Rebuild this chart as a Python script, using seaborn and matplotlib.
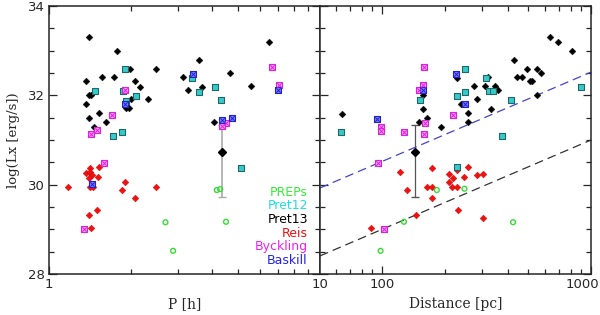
import numpy as np
import pandas as pd
import matplotlib
matplotlib.use("Agg")
import matplotlib.pyplot as plt
import matplotlib.ticker as mticker
import matplotlib.transforms as mtrans
import seaborn as sns

# ---------------- data ----------------
# left panel: orbital period P [h] vs log Lx
pret13_p = [1.40, 1.78, 1.99, 2.48, 1.57, 1.73, 1.37, 2.08, 2.17, 1.41, 1.43, 2.00, 2.31,
            1.37, 1.53, 1.41, 1.93, 1.98, 1.62, 1.47, 3.11, 3.27, 3.58, 3.67, 4.67, 6.50,
            5.56, 4.06]
pret13_p_lx = [33.30, 33.00, 32.60, 32.60, 32.40, 32.40, 32.31, 32.31, 32.19, 32.00, 32.00,
               31.91, 31.91, 31.80, 31.60, 31.50, 31.71, 31.71, 31.40, 31.30, 32.40, 32.11,
               32.79, 32.19, 32.51, 33.19, 32.22, 31.40]
pret12_p = [1.91, 1.48, 1.88, 1.92, 2.10, 1.72, 1.86, 3.38, 3.57, 4.11, 4.31, 5.13]
pret12_p_lx = [32.58, 32.09, 32.09, 31.88, 31.98, 31.09, 31.17, 32.38, 32.08, 32.18, 31.89, 30.38]
reis_p = [1.18, 1.42, 1.37, 1.42, 1.44, 1.41, 1.51, 1.53, 1.42, 1.45, 1.91, 1.86, 2.48,
          2.08, 1.50, 1.41, 1.43]
reis_p_lx = [29.95, 30.37, 30.26, 30.29, 30.22, 30.15, 30.17, 30.40, 29.94, 29.94, 30.05,
             29.89, 29.95, 29.70, 29.44, 29.32, 29.02]
byck_p = [1.90, 1.71, 1.43, 1.50, 6.67, 7.03, 4.50, 4.33, 1.59, 1.35]
byck_p_lx = [32.13, 31.56, 31.14, 31.22, 32.64, 32.23, 31.38, 31.32, 30.49, 29.01]
bask_p = [1.91, 3.41, 7.00, 4.35, 4.74, 1.44]
bask_p_lx = [31.80, 32.48, 32.12, 31.44, 31.49, 30.02]
preps_p = [2.69, 2.87, 4.16, 4.28, 4.50]
preps_p_lx = [29.16, 28.52, 29.88, 29.90, 29.17]

# right panel: distance [pc] vs log Lx
pret13_d = [64.3, 157.9, 157.9, 163.9, 150.1, 191.9, 228.8, 238.3, 257.4, 257.4, 636.8,
            693.0, 808.6, 429.9, 494.5, 550.1, 574.9, 441.4, 466.4, 320.8, 512.7, 520.6,
            275.9, 311.4, 348.7, 358.1, 285.2, 550.1, 331.6]
pret13_d_lx = [31.59, 32.00, 31.70, 31.50, 31.40, 31.30, 32.39, 31.80, 31.60, 31.40, 33.30,
               33.19, 33.00, 32.79, 32.60, 32.60, 32.51, 32.40, 32.40, 32.40, 32.31, 32.31,
               32.20, 32.20, 32.22, 32.11, 31.91, 32.00, 31.70]
pret12_d = [63.8, 152.8, 228.8, 249.1, 249.1, 315.9, 326.5, 338.9, 415.9, 375.5, 895.9, 228.8]
pret12_d_lx = [31.17, 31.89, 31.98, 32.08, 32.58, 32.38, 32.09, 32.09, 31.89, 31.09, 32.18, 30.39]
reis_d = [121.8, 131.5, 173.2, 163.9, 173.2, 173.2, 145.7, 88.5, 210.2, 219.7, 210.2, 228.0,
          257.4, 248.0, 215.8, 228.0, 230.6, 284.2, 303.6, 303.6]
reis_d_lx = [30.28, 29.89, 30.37, 29.95, 29.95, 29.70, 29.32, 29.02, 30.23, 30.15, 30.05,
             30.32, 30.40, 30.17, 29.94, 29.94, 29.44, 30.21, 30.25, 29.26]
byck_d = [159.6, 157.9, 150.1, 98.4, 99.4, 128.1, 161.4, 159.1, 218.3, 95.2, 102.4]
byck_d_lx = [32.64, 32.23, 32.12, 31.30, 31.21, 31.17, 31.38, 31.14, 31.56, 30.48, 29.00]
bask_d = [157.9, 94.5, 226.3, 249.1]
bask_d_lx = [32.12, 31.48, 32.48, 31.80]
preps_d = [183.0, 248.0, 127.3, 98.4, 423.8]
preps_d_lx = [29.88, 29.91, 29.17, 28.52, 29.16]

# object with error bar
err_p, err_d, err_lx = 4.35, 144.5, 30.73
err_lo, err_hi = 1.01, 0.61

# flux-limit lines: log Lx = 2 log D + c
line_d = [50.5, 1000]
line_c = {"blue": 26.52, "black": 25.0}

legend_names = ["PREPs", "Pret12", "Pret13", "Reis", "Byckling", "Baskill"]
legend_cols = ["#33ee33", "#22dddd", "black", "#ee1111", "#ee22ee", "#2222ee"]

# ---------------- plotting ----------------
sns.set_style("ticks")
plt.rcParams["font.family"] = ["DejaVu Sans"]

fig, (ax1, ax2) = plt.subplots(1, 2, figsize=(6, 3.15), dpi=100, sharey=True)
fig.subplots_adjust(left=0.0817, right=0.985, top=0.981, bottom=0.130, wspace=0)


def draw(ax, xs):
    (x13, y13), (x12, y12), (xr, yr), (xb, yb), (xk, yk), (xg, yg) = xs
    sns.scatterplot(x=x13, y=y13, ax=ax, marker="D", s=12, color="black", edgecolor="black", zorder=3)
    sns.scatterplot(x=xr, y=yr, ax=ax, marker="D", s=12, color="#ee1111", edgecolor="#cc0000", zorder=3)
    sns.scatterplot(x=x12, y=y12, ax=ax, marker="s", s=20, color="#33cccc", edgecolor="#226666",
                    linewidth=0.8, zorder=4)
    sns.scatterplot(x=xb, y=yb, ax=ax, marker="s", s=20, color="#f4a0f4", edgecolor="#dd22dd",
                    linewidth=0.8, zorder=4)
    sns.scatterplot(x=xb, y=yb, ax=ax, marker="x", s=10, color="#dd22dd", linewidth=0.7, zorder=5)
    sns.scatterplot(x=xk, y=yk, ax=ax, marker="s", s=20, color="#8080ff", edgecolor="#2222cc",
                    linewidth=0.8, zorder=4)
    sns.scatterplot(x=xk, y=yk, ax=ax, marker="x", s=10, color="#2222cc", linewidth=0.7, zorder=5)
    sns.scatterplot(x=xg, y=yg, ax=ax, marker="o", s=12, facecolor="none", edgecolor="#33dd33",
                    linewidth=1.0, zorder=4)


draw(ax1, [(pret13_p, pret13_p_lx), (pret12_p, pret12_p_lx), (reis_p, reis_p_lx),
           (byck_p, byck_p_lx), (bask_p, bask_p_lx), (preps_p, preps_p_lx)])
draw(ax2, [(pret13_d, pret13_d_lx), (pret12_d, pret12_d_lx), (reis_d, reis_d_lx),
           (byck_d, byck_d_lx), (bask_d, bask_d_lx), (preps_d, preps_d_lx)])

ax1.errorbar([err_p], [err_lx], yerr=[[err_lo], [err_hi]], fmt="D", ms=4, color="black",
             ecolor="#aaaaaa", elinewidth=1.2, capsize=3, zorder=2)
ax2.errorbar([err_d], [err_lx], yerr=[[err_lo], [err_hi]], fmt="D", ms=4, color="black",
             ecolor="#555555", elinewidth=0.9, capsize=3, zorder=2)

ld = np.array(line_d)
ax2.plot(ld, 2 * np.log10(ld) + line_c["blue"], ls=(0, (7, 4)), color="#4444cc", lw=0.9)
ax2.plot(ld, 2 * np.log10(ld) + line_c["black"], ls=(0, (7, 4)), color="#333333", lw=0.9)

for ax in (ax1, ax2):
    ax.set_xscale("log")
    ax.set_ylim(28, 34)
    ax.set_yticks([28, 30, 32, 34])
    ax.set_yticks(np.arange(28, 34.01, 0.5), minor=True)
    ax.xaxis.set_minor_formatter(mticker.NullFormatter())
    ax.tick_params(which="both", direction="in", top=True, right=True, width=0.9)
    ax.tick_params(which="major", length=6, labelsize=9.5, pad=3)
    ax.tick_params(which="minor", length=3.5)
    for sp in ax.spines.values():
        sp.set_linewidth(1.1)
        sp.set_visible(True)

ax1.set_xlim(1, 10)
ax1.set_xticks([1, 10])
ax1.set_xticklabels(["1", "10"])
ax2.set_xlim(50.5, 1000)
ax2.set_xticks([100, 1000])
ax2.set_xticklabels(["100", "1000"])
ax2.tick_params(labelleft=False)

# keep "1000" inside the figure
lab = ax2.get_xticklabels()[-1]
lab.set_transform(lab.get_transform() + mtrans.ScaledTranslation(-9 / 100, 0, fig.dpi_scale_trans))

ax1.set_xlabel("P [h]", family="DejaVu Serif", fontsize=10, labelpad=4)
ax2.set_xlabel("Distance [pc]", family="DejaVu Serif", fontsize=10, labelpad=4)
ax1.set_ylabel("log(Lx [erg/s])", family="DejaVu Serif", fontsize=9.5, labelpad=6)

for i, (name, col) in enumerate(zip(legend_names, legend_cols)):
    ax1.text(0.955, 0.305 - i * 0.051, name, color=col, fontsize=9, ha="right", va="center",
             transform=ax1.transAxes)

fig.savefig("out.png", dpi=100)
